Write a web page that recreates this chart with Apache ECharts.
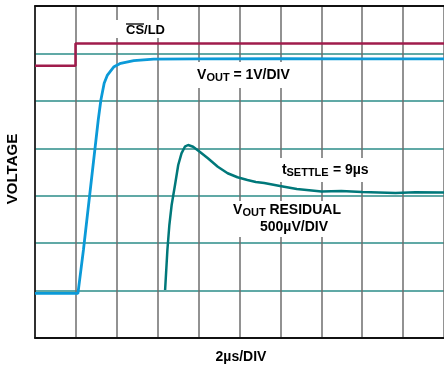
<!DOCTYPE html>
<html>
<head>
<meta charset="utf-8">
<script src="https://cdn.jsdelivr.net/npm/echarts@6/dist/echarts.min.js"></script>
<style>html,body{margin:0;padding:0;background:#fff}#c{width:444px;height:369px}</style>
</head>
<body>
<div id="c"></div>
<script>
// x in time divisions (2µs/DIV), y in vertical divisions
const csldX = [0, 0.99, 0.99, 10];
const csldY = [5.74, 5.74, 6.21, 6.21];

const voutX = [0, 1.05, 1.184, 1.546, 1.611, 1.691, 1.771, 1.932, 2.094, 2.415, 2.899, 3.986, 6.0, 8.0, 10];
const voutY = [0.94, 0.94, 1.855, 4.596, 5.018, 5.370, 5.545, 5.720, 5.792, 5.847, 5.882, 5.887, 5.89, 5.887, 5.887];

const residX = [3.181, 3.237, 3.285, 3.341, 3.423, 3.502, 3.582, 3.664, 3.744, 3.865, 4.027, 4.227, 4.469, 4.710, 4.95, 5.193, 5.40, 5.604, 5.990, 6.401, 7.005, 7.488, 7.995, 8.816, 9.3, 10];
const residY = [1.012, 1.855, 2.382, 2.804, 3.226, 3.647, 3.894, 4.033, 4.069, 4.033, 3.928, 3.789, 3.612, 3.473, 3.39, 3.331, 3.29, 3.268, 3.205, 3.141, 3.089, 3.099, 3.078, 3.057, 3.075, 3.068];

const xMin = 0, xMax = 10, xStep = 1;
const yMin = 0, yMax = 7, yStep = 1;

function pairs(xs, ys) { return xs.map((x, i) => [x, ys[i]]); }

const FONT = '"Liberation Sans", Arial, sans-serif';
function txt(x, y, s, size, align, extra) {
  return Object.assign({
    type: 'text', x: x, y: y, z: 101,
    style: { text: s, fontFamily: FONT, fontWeight: 'bold', fontSize: size, fill: '#000', align: align || 'left', verticalAlign: 'middle' }
  }, extra || {});
}
function box(x, y, w, h) {
  return { type: 'rect', z: 100, shape: { x: x, y: y, width: w, height: h }, style: { fill: '#fff' } };
}

const chart = echarts.init(document.getElementById('c'), null, { renderer: 'canvas' });
chart.setOption({
  animation: false,
  grid: { left: 35, right: -5, top: 6, bottom: 31 },
  xAxis: [{
    type: 'value', min: xMin, max: xMax, interval: xStep, position: 'bottom',
    axisLine: { show: true, lineStyle: { color: '#111', width: 2 } },
    axisTick: { show: false }, axisLabel: { show: false },
    splitLine: { show: true, lineStyle: { color: '#6e6e6e', width: 1.5 } }
  }, {
    type: 'value', min: xMin, max: xMax, interval: xStep, position: 'top',
    axisLine: { show: true, lineStyle: { color: '#111', width: 2 } },
    axisTick: { show: false }, axisLabel: { show: false }, splitLine: { show: false }
  }],
  yAxis: {
    type: 'value', min: yMin, max: yMax, interval: yStep,
    axisLine: { show: true, lineStyle: { color: '#111', width: 1.5 } },
    axisTick: { show: false }, axisLabel: { show: false },
    splitLine: { show: true, lineStyle: { color: '#2b8c88', width: 1.5 } }
  },
  series: [
    { type: 'line', data: pairs(csldX, csldY), showSymbol: false, lineStyle: { color: '#a01c4c', width: 2.5 }, z: 3 },
    { type: 'line', data: pairs(voutX, voutY), showSymbol: false, lineStyle: { color: '#0b9ad8', width: 2.8 }, z: 4 },
    { type: 'line', data: pairs(residX, residY), showSymbol: false, smooth: false, lineStyle: { color: '#00787a', width: 2.5 }, z: 4 }
  ],
  graphic: [
    box(114, 20, 58, 18),
    box(190, 62, 106, 26),
    box(272, 158, 104, 24),
    box(228, 201, 120, 36),
    txt(126, 30, 'CS/LD', 13),
    { type: 'line', z: 101, shape: { x1: 126, y1: 24, x2: 144, y2: 24 }, style: { stroke: '#000', lineWidth: 1.3 } },
    txt(197, 75, 'V', 14),
    txt(206.5, 78, 'OUT', 11),
    txt(229.5, 75, ' = 1V/DIV', 14),
    txt(282, 170, 't', 14),
    txt(286.5, 173.3, 'SETTLE', 11),
    txt(329, 170, ' = 9µs', 14),
    txt(233, 210, 'V', 14),
    txt(242.5, 213, 'OUT', 11),
    txt(265.5, 210, ' RESIDUAL', 14),
    txt(294, 226.7, '500µV/DIV', 14, 'center'),
    txt(241, 357, '2µs/DIV', 14, 'center'),
    txt(13, 169, 'VOLTAGE', 15, 'center', { rotation: Math.PI / 2 })
  ]
});
</script>
</body>
</html>
